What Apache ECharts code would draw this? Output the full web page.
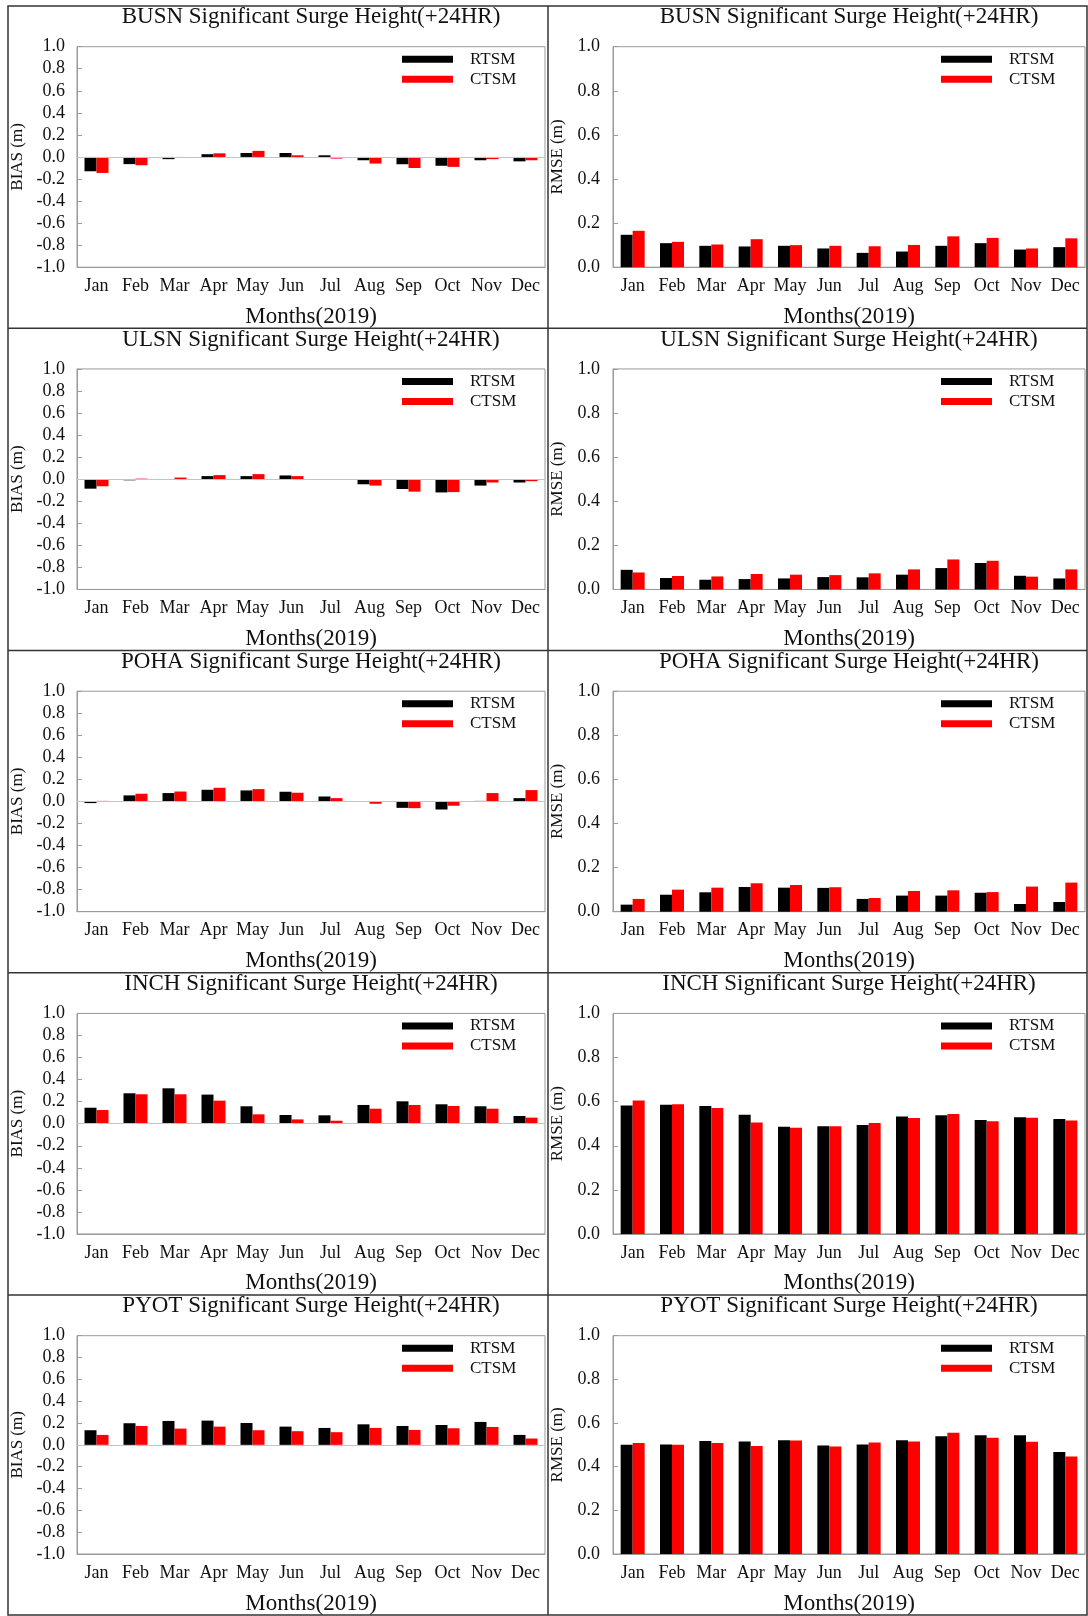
<!DOCTYPE html>
<html><head><meta charset="utf-8">
<script src="https://cdn.jsdelivr.net/npm/echarts@6/dist/echarts.min.js"></script>
<style>html,body{margin:0;padding:0;background:#fff}#c{width:1088px;height:1616px}</style>
</head><body><div id="c"></div>
<script>
const months = ['Jan','Feb','Mar','Apr','May','Jun','Jul','Aug','Sep','Oct','Nov','Dec'];
const stations = ['BUSN','ULSN','POHA','INCH','PYOT'];
const seriesNames = ['RTSM','CTSM'];
const titleSuffix = ' Significant Surge Height(+24HR)';
const xAxisTitle = 'Months(2019)';
const biasAxisTitle = 'BIAS (m)';
const rmseAxisTitle = 'RMSE (m)';

const busnBiasRTSM = [-0.13,-0.065,-0.02,0.025,0.036,0.036,0.015,-0.03,-0.066,-0.08,-0.03,-0.04];
const busnBiasCTSM = [-0.145,-0.075,-0.005,0.033,0.055,0.015,-0.015,-0.06,-0.10,-0.09,-0.02,-0.03];
const busnRmseRTSM = [0.147,0.109,0.097,0.094,0.097,0.085,0.065,0.071,0.097,0.109,0.080,0.091];
const busnRmseCTSM = [0.165,0.115,0.103,0.127,0.100,0.097,0.095,0.101,0.140,0.133,0.085,0.131];
const ulsnBiasRTSM = [-0.086,-0.01,-0.005,0.028,0.028,0.034,0.002,-0.046,-0.089,-0.12,-0.058,-0.03];
const ulsnBiasCTSM = [-0.064,0.005,0.015,0.037,0.046,0.028,0.001,-0.058,-0.113,-0.117,-0.03,-0.018];
const ulsnRmseRTSM = [0.089,0.052,0.044,0.047,0.050,0.056,0.055,0.067,0.097,0.120,0.062,0.050];
const ulsnRmseCTSM = [0.077,0.061,0.059,0.070,0.067,0.065,0.073,0.091,0.136,0.130,0.058,0.091];
const pohaBiasRTSM = [-0.015,0.055,0.076,0.106,0.100,0.088,0.045,-0.003,-0.058,-0.073,0.005,0.030];
const pohaBiasCTSM = [0.005,0.070,0.090,0.124,0.112,0.079,0.030,-0.021,-0.061,-0.039,0.076,0.103];
const pohaRmseRTSM = [0.032,0.077,0.088,0.112,0.109,0.108,0.058,0.073,0.073,0.086,0.035,0.044];
const pohaRmseCTSM = [0.058,0.100,0.109,0.129,0.121,0.111,0.062,0.094,0.097,0.089,0.114,0.132];
const inchBiasRTSM = [0.145,0.276,0.321,0.264,0.158,0.079,0.076,0.170,0.203,0.176,0.158,0.070];
const inchBiasCTSM = [0.124,0.267,0.267,0.209,0.085,0.039,0.027,0.136,0.170,0.161,0.136,0.055];
const inchRmseRTSM = [0.583,0.586,0.580,0.541,0.486,0.488,0.494,0.533,0.538,0.517,0.529,0.521];
const inchRmseCTSM = [0.605,0.588,0.571,0.506,0.482,0.488,0.503,0.526,0.544,0.511,0.527,0.515];
const pyotBiasRTSM = [0.134,0.198,0.219,0.222,0.200,0.167,0.155,0.188,0.173,0.182,0.210,0.091];
const pyotBiasCTSM = [0.091,0.173,0.149,0.167,0.134,0.125,0.116,0.155,0.137,0.152,0.164,0.058];
const pyotRmseRTSM = [0.500,0.502,0.518,0.515,0.521,0.497,0.502,0.521,0.539,0.544,0.544,0.467];
const pyotRmseCTSM = [0.508,0.500,0.509,0.495,0.520,0.492,0.511,0.515,0.556,0.532,0.514,0.447];

const biasData = [[busnBiasRTSM,busnBiasCTSM],[ulsnBiasRTSM,ulsnBiasCTSM],[pohaBiasRTSM,pohaBiasCTSM],[inchBiasRTSM,inchBiasCTSM],[pyotBiasRTSM,pyotBiasCTSM]];
const rmseData = [[busnRmseRTSM,busnRmseCTSM],[ulsnRmseRTSM,ulsnRmseCTSM],[pohaRmseRTSM,pohaRmseCTSM],[inchRmseRTSM,inchRmseCTSM],[pyotRmseRTSM,pyotRmseCTSM]];

const FONT = "'Liberation Serif','Times New Roman',serif";
const TXT = '#111111';
const GRAY = '#9a9a9a';
const COLORS = ['#000000','#ff0000'];
const ROW0 = 46.7, PITCH = 322.25, PH = 220.5;
const cols = [
  {left:77, width:468, nameGap:51, labelMargin:12, legendLeft:402},
  {left:613, width:472, nameGap:47, labelMargin:13, legendLeft:941}
];

const grids=[], xAxes=[], yAxes=[], series=[], legends=[], graphics=[];
const fmt = v => (Math.abs(v) < 1e-9 ? 0 : v).toFixed(1);

stations.forEach((st, r) => {
  const top = ROW0 + PITCH * r;
  [0,1].forEach(c => {
    const g = r*2 + c;
    const col = cols[c];
    const isBias = c === 0;
    grids.push({left:col.left, top:top, width:col.width, height:PH, show:true, borderColor:GRAY, borderWidth:1, containLabel:false});
    xAxes.push({
      type:'category', gridIndex:g, data:months,
      axisLine:{onZero:false, lineStyle:{color:GRAY}},
      axisTick:{alignWithLabel:true, inside:true, length:4, interval:0, lineStyle:{color:GRAY}},
      axisLabel:{interval:0, hideOverlap:false, margin:10, fontFamily:FONT, fontSize:18, color:TXT},
      name:xAxisTitle, nameLocation:'middle', nameGap:38,
      nameTextStyle:{fontFamily:FONT, fontSize:23, color:TXT}
    });
    yAxes.push({
      type:'value', gridIndex:g, min:isBias?-1:0, max:1, interval:0.2,
      axisLine:{show:true, lineStyle:{color:GRAY}},
      axisTick:{show:true, inside:true, length:5, lineStyle:{color:GRAY}},
      splitLine:{show:false},
      axisLabel:{margin:col.labelMargin, fontFamily:FONT, fontSize:18, color:TXT, formatter:fmt},
      name:isBias?biasAxisTitle:rmseAxisTitle, nameLocation:'middle', nameGap:col.nameGap, nameRotate:90,
      nameTextStyle:{fontFamily:FONT, fontSize:17, color:TXT}
    });
    const d = isBias ? biasData[r] : rmseData[r];
    seriesNames.forEach((nm, k) => {
      const s = {
        type:'bar', name:nm, xAxisIndex:g, yAxisIndex:g, data:d[k],
        barWidth:12, barGap:'0%', itemStyle:{color:COLORS[k]}, silent:true
      };
      if (isBias && k === 0) {
        s.markLine = {silent:true, symbol:'none', label:{show:false}, animation:false,
          lineStyle:{color:'#c4c4c4', type:'solid', width:1}, data:[{yAxis:0}]};
      }
      series.push(s);
    });
    legends.push({
      orient:'vertical', left:col.legendLeft, top:top+4, padding:0, itemGap:3,
      itemWidth:51, itemHeight:7, icon:'rect', selectedMode:false,
      data:seriesNames.map((n,k)=>({name:n, itemStyle:{color:COLORS[k]}})),
      textStyle:{fontFamily:FONT, fontSize:17, color:TXT, padding:[0,0,0,12], lineHeight:17}
    });
    graphics.push({
      type:'text', x:col.left + col.width/2, y:top - 29.4, silent:true,
      style:{text:st + titleSuffix, fontFamily:FONT, fontSize:23, fill:TXT, textAlign:'center', textVerticalAlign:'middle'}
    });
  });
});

// frame lines
graphics.push({type:'rect', shape:{x:8, y:6, width:1079, height:1609}, style:{fill:'none', stroke:'#333', lineWidth:1.5}, silent:true});
graphics.push({type:'line', shape:{x1:548, y1:6, x2:548, y2:1615}, style:{stroke:'#333', lineWidth:1.5}, silent:true});
for (let i = 1; i < 5; i++) {
  const y = 6 + PITCH * i;
  graphics.push({type:'line', shape:{x1:8, y1:y, x2:1087, y2:y}, style:{stroke:'#333', lineWidth:1.5}, silent:true});
}

const chart = echarts.init(document.getElementById('c'), null, {renderer:'canvas'});
chart.setOption({
  animation:false,
  backgroundColor:'#ffffff',
  grid:grids, xAxis:xAxes, yAxis:yAxes, series:series, legend:legends, graphic:graphics
});
</script>
</body></html>
